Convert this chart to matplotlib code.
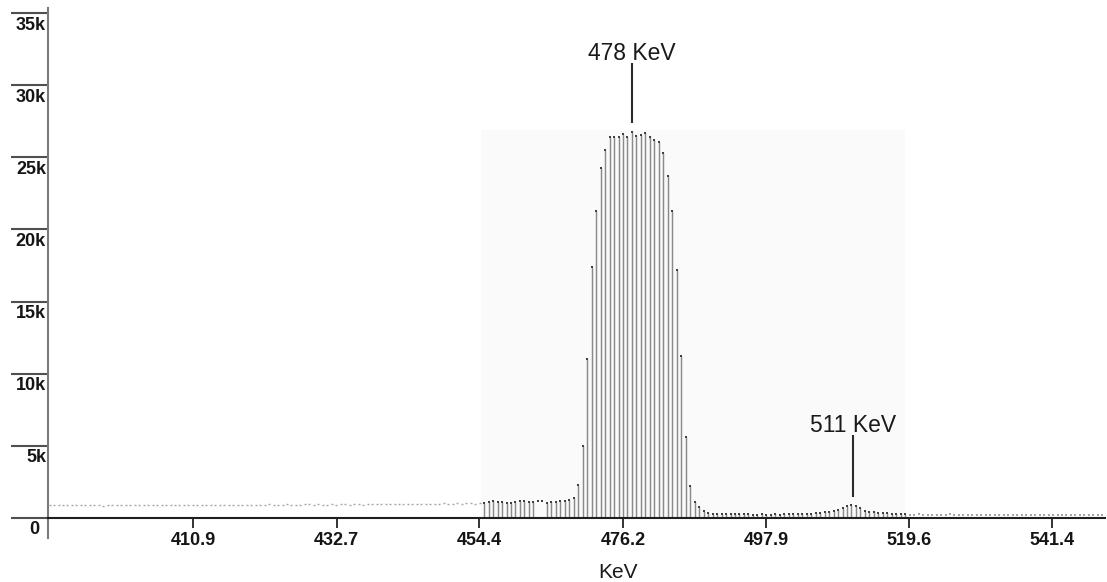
import numpy as np
import matplotlib
matplotlib.use('Agg')
import matplotlib.pyplot as plt
from matplotlib.patches import Rectangle

# ---------------- data ----------------
# channel calibration (keV)
channel_start_kev = 389.11
channel_step_kev = 0.6804

# counts per channel, in thousands
counts_left = [0.84, 0.86, 0.85, 0.87, 0.84, 0.86, 0.88, 0.85, 0.86, 0.84, 0.87, 0.86,
               0.83, 0.86, 0.88, 0.85, 0.87, 0.86, 0.84, 0.88, 0.86, 0.85, 0.87, 0.86,
               0.87, 0.85, 0.88, 0.86, 0.89, 0.87, 0.85, 0.88, 0.87, 0.90, 0.86, 0.88,
               0.87, 0.89, 0.86, 0.88, 0.90, 0.87, 0.89, 0.88, 0.86, 0.89, 0.88, 0.90,
               0.88, 0.91, 0.89, 0.87, 0.90, 0.92, 0.88, 0.90, 0.89, 0.91, 0.93, 0.89,
               0.91, 0.90, 0.88, 0.92, 0.90, 0.93, 0.91, 0.89, 0.92, 0.94, 0.90, 0.92,
               0.93, 0.91, 0.94, 0.92, 0.95, 0.93, 0.91, 0.94, 0.96, 0.93, 0.95, 0.94,
               0.97, 0.95, 0.93, 0.96, 0.98, 0.95, 0.97, 0.99, 0.96, 0.98, 1.00, 0.97, 0.99]

counts_roi = [1.00, 1.08, 1.12, 1.10, 1.08, 1.03, 0.99, 1.10, 1.15, 1.15, 1.10, 1.08,
              1.12, 1.13,
              1.04, 1.09, 1.10, 1.12, 1.14, 1.20,
              1.33, 2.26, 5.0, 11.0, 17.4, 21.3, 24.3, 25.5, 26.4, 26.4, 26.4, 26.6,
              26.4, 26.8, 26.5, 26.55, 26.7, 26.4, 26.2, 26.1, 25.3, 23.7, 21.3, 17.2,
              11.25, 5.6, 2.2, 1.1, 0.75,
              0.46, 0.34, 0.27, 0.24, 0.23, 0.22, 0.23, 0.22, 0.23, 0.21, 0.22, 0.20,
              0.19, 0.21, 0.20, 0.19, 0.21, 0.20, 0.22, 0.21, 0.23, 0.22, 0.24, 0.25,
              0.27, 0.30, 0.33, 0.36, 0.40, 0.46, 0.54, 0.67, 0.80, 0.85, 0.80, 0.65,
              0.47, 0.40, 0.37, 0.34, 0.32, 0.28, 0.26, 0.24, 0.23, 0.22]
roi_dot_only = [12, 13]   # channels in the ROI drawn without stems

counts_right = [0.20, 0.19, 0.21, 0.18, 0.20, 0.19, 0.18, 0.20, 0.19, 0.21,
                0.18, 0.19, 0.20, 0.18, 0.19, 0.20, 0.18, 0.19, 0.17, 0.19,
                0.18, 0.20, 0.18, 0.17, 0.19, 0.18, 0.20, 0.17, 0.18, 0.19,
                0.17, 0.18, 0.19, 0.17, 0.18, 0.16, 0.18, 0.19, 0.17, 0.18,
                0.16, 0.18, 0.17, 0.18]

assert len(counts_left) == 97 and len(counts_roi) == 95 and len(counts_right) == 44

roi_start_kev = 454.6
roi_end_kev = 519.0
roi_top_k = 26.9

xtick_values = [410.9, 432.7, 454.4, 476.2, 497.9, 519.6, 541.4]
xtick_labels = ['410.9', '432.7', '454.4', '476.2', '497.9', '519.6', '541.4']
ytick_values = [0, 5, 10, 15, 20, 25, 30, 35]
ytick_labels = ['0', '5k', '10k', '15k', '20k', '25k', '30k', '35k']

peak_labels = ['478 KeV', '511 KeV']
peak_kev = [477.6, 511.1]
peak_line_bottom = [27.4, 1.45]
peak_line_top = [31.55, 5.73]
peak_text_base = [31.75, 5.96]

# ---------------- figure ----------------
W, H = 1107, 582
fig = plt.figure(figsize=(W / 100, H / 100), dpi=100)
fig.patch.set_facecolor('white')
ax_left, ax_right, ax_top, ax_bot = 48, 1105, 8.3, 538.3
ax = fig.add_axes([ax_left / W, (H - ax_bot) / H, (ax_right - ax_left) / W, (ax_bot - ax_top) / H])
ax.set_facecolor('white')

zero_px, px_per_k = 517.5, 14.4
ax.set_ylim(-(ax_bot - zero_px) / px_per_k, (zero_px - ax_top) / px_per_k)
ax.set_xlim(388.87, 549.41)

counts = np.array(counts_left + counts_roi + counts_right)
energy = channel_start_kev + channel_step_kev * np.arange(len(counts))
n_l, n_r = len(counts_left), len(counts_roi)
e_left, c_left = energy[:n_l], counts[:n_l]
e_roi, c_roi = energy[n_l:n_l + n_r], counts[n_l:n_l + n_r]
e_right, c_right = energy[n_l + n_r:], counts[n_l + n_r:]

# ROI highlight (very faint)
ax.add_patch(Rectangle((roi_start_kev, 0), roi_end_kev - roi_start_kev, roi_top_k,
                       facecolor='#fafafa', edgecolor='none', zorder=0))

stem_mask = np.ones(len(c_roi), dtype=bool)
stem_mask[roi_dot_only] = False
ax.vlines(e_roi[stem_mask], 0, c_roi[stem_mask], colors='#8a8a8a', lw=1.05, zorder=2)
ax.plot(e_roi, c_roi, ls='none', marker='s', ms=1.5, mew=0, color='#404040', zorder=3)
ax.plot(e_left, c_left, ls='none', marker='_', ms=1.6, mew=1.0, color='#a6a6a6', zorder=3)
ax.plot(e_right, c_right, ls='none', marker='_', ms=1.6, mew=1.1, color='#8a8a8a', zorder=3)

# peak annotations
for lab, xk, yb, yt, ytx in zip(peak_labels, peak_kev, peak_line_bottom, peak_line_top, peak_text_base):
    ax.plot([xk, xk], [yb, yt], color='#2a2a2a', lw=1.5, solid_capstyle='butt', zorder=4)
    ax.text(xk, ytx, lab, ha='center', va='baseline', fontsize=16.5,
            family=['Liberation Sans', 'DejaVu Sans'], color='#1a1a1a')

# spines
for s in ['top', 'right']:
    ax.spines[s].set_visible(False)
ax.spines['bottom'].set_position(('data', 0))
ax.spines['bottom'].set_color('#1e1e1e')
ax.spines['bottom'].set_linewidth(1.5)
ax.spines['bottom'].set_zorder(5)
ax.spines['left'].set_color('#7a7a7a')
ax.spines['left'].set_linewidth(1.5)

# x ticks
ax.set_xticks(xtick_values)
ax.set_xticklabels(xtick_labels)
ax.tick_params(axis='x', direction='out', length=7.2, width=1.4, color='#333333', pad=3.0,
               labelsize=13, labelcolor='#151515')
for t in ax.get_xticklabels():
    t.set_fontweight('bold')
    t.set_family(['Liberation Sans', 'DejaVu Sans'])

# y ticks (long lines to the left), labels drawn below each tick line
ax.set_yticks(ytick_values)
ax.set_yticklabels([''] * len(ytick_values))
ax.tick_params(axis='y', direction='out', length=26.6, width=1.5, color='#505050')
for v, lab in zip(ytick_values, ytick_labels):
    dx = -9 if lab == '0' else -2
    ax.annotate(lab, xy=(0, v), xycoords=('axes fraction', 'data'),
                xytext=(dx, -3.5), textcoords='offset pixels', ha='right', va='top',
                fontsize=13, fontweight='bold', family=['Liberation Sans', 'DejaVu Sans'],
                color='#151515', annotation_clip=False)

fig.text(618 / W, (H - 578.3) / H, 'KeV', ha='center', va='baseline', fontsize=15,
         family=['Liberation Sans', 'DejaVu Sans'], color='#1a1a1a')

fig.savefig('out.png', dpi=100, facecolor='white')
